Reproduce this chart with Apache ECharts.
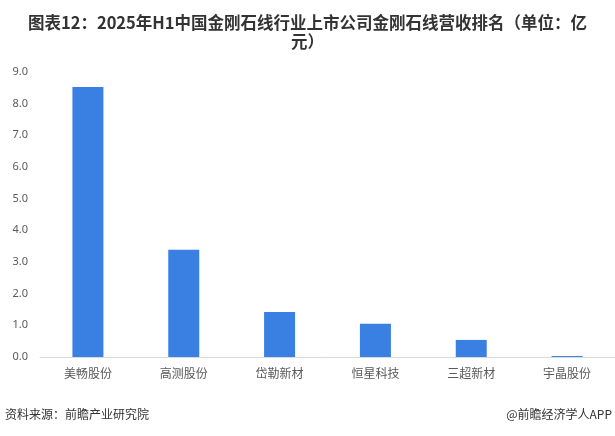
<!DOCTYPE html>
<html><head><meta charset="utf-8">
<script src="https://cdn.jsdelivr.net/npm/echarts@6/dist/echarts.min.js"></script>
<style>html,body{margin:0;padding:0;background:#fff;}#c{width:615px;height:436px;}</style>
</head><body><div id="c"></div>
<script>
const categories = ['美畅股份','高测股份','岱勒新材','恒星科技','三超新材','宇晶股份'];
const revenue = [8.53, 3.39, 1.42, 1.05, 0.54, 0.03];
const yTicks = [0, 1, 2, 3, 4, 5, 6, 7, 8, 9];

const chart = echarts.init(document.getElementById('c'));
chart.setOption({
  backgroundColor: '#fff',
  animation: false,
  title: {
    text: '图表12：2025年H1中国金刚石线行业上市公司金刚石线营收排名（单位：亿\n元）',
    left: 'center', top: 8,
    textStyle: {fontSize: 16.5, fontWeight: 'bold', color: '#333', lineHeight: 19, fontFamily: 'Noto Sans CJK SC'}
  },
  graphic: [
    {type: 'text', left: 5, top: 408, style: {text: '资料来源：前瞻产业研究院', fontSize: 12, fill: '#333', fontFamily: 'Noto Sans CJK SC'}},
    {type: 'text', right: 3, top: 408, style: {text: '@前瞻经济学人APP', fontSize: 12, fill: '#333', fontFamily: 'Noto Sans CJK SC'}}
  ],
  grid: {left: 40, right: 0, top: 72, bottom: 79, containLabel: false},
  xAxis: {
    type: 'category', data: categories,
    axisLine: {lineStyle: {color: '#d9d9d9'}},
    axisTick: {show: false},
    axisLabel: {color: '#595959', fontSize: 12, margin: 10, fontFamily: 'Noto Sans CJK SC'}
  },
  yAxis: {
    type: 'value', min: yTicks[0], max: yTicks[yTicks.length-1], interval: 1,
    axisLine: {show: false}, axisTick: {show: false},
    splitLine: {show: false},
    axisLabel: {color: '#595959', fontSize: 11, margin: 12, formatter: v => v.toFixed(1), fontFamily: 'Noto Sans'}
  },
  series: [{
    type: 'bar', data: revenue, barWidth: 31,
    itemStyle: {color: '#3A80E3'}
  }]
});
</script></body></html>
